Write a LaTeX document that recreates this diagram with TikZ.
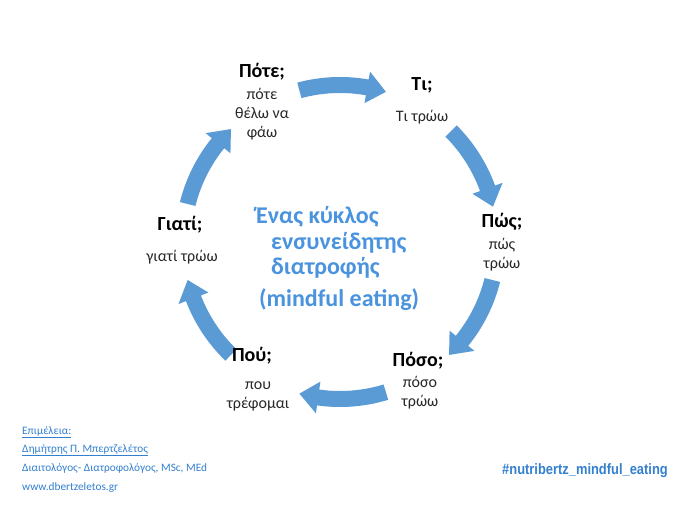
\documentclass[tikz,border=0pt]{standalone}
\usepackage{fontspec}
\usepackage{graphicx}
\setmainfont{Carlito}
\newfontfamily\hashfont{Liberation Sans}
\definecolor{arrowblue}{RGB}{91,155,213}
\definecolor{centerblue}{RGB}{74,147,222}
\definecolor{footblue}{RGB}{52,128,208}
\definecolor{subgray}{RGB}{40,40,40}
\tikzset{
  title/.style={font=\fontsize{20}{24}\selectfont\bfseries, text=black, inner sep=0pt},
  sub/.style={font=\fontsize{16}{19}\selectfont, text=subgray, align=center, inner sep=0pt},
  centre/.style={font=\fontsize{24}{28}\selectfont\bfseries, text=centerblue, anchor=west, inner sep=0pt},
  foot/.style={font=\fontsize{11.3}{13}\selectfont, text=footblue, anchor=west, inner sep=0pt},
}
\newcommand{\cycarrow}[2]{%
  \pgfmathsetmacro{\hd}{#2+7}%
  \fill[arrowblue] (#1:165pt) arc[start angle=#1, end angle=\hd, radius=165pt]
    -- (\hd:173pt) -- (#2:157pt) -- (\hd:141pt) -- (\hd:149pt)
    arc[start angle=\hd, end angle=#1, radius=149pt] -- cycle;}
\begin{document}
\begin{tikzpicture}[x=1pt,y=1pt]
\path[use as bounding box, fill=white] (0,0) rectangle (700,525);
% arrows
\begin{scope}[shift={(340,283)}]
\cycarrow{105}{73}
\cycarrow{45}{13}
\cycarrow{-14}{-46}
\cycarrow{-73}{-105}
\cycarrow{-134}{-166}
\cycarrow{166}{134}
\end{scope}
% nodes
\node[title] (t1) at (262,453) {Πότε;};
\node[sub] (s1) at (262,411) {πότε\\θέλω να\\φάω};
\node[title] (t2) at (422,440) {Τι;};
\node[sub] (s2) at (422,408) {Τι τρώω};
\node[title] (t3) at (502,303) {Πώς;};
\node[sub] (s3) at (502,270.5) {πώς\\τρώω};
\node[title] (t4) at (418,164) {Πόσο;};
\node[sub] (s4) at (420,132) {πόσο\\τρώω};
\node[title] (t5) at (252,169) {Πού;};
\node[sub] (s5) at (258,129) {που\\τρέφομαι};
\node[title] (t6) at (180,300) {Γιατί;};
\node[sub] (s6) at (182,268) {γιατί τρώω};
% centre text
\node[centre] (c1) at (256,308) {Ένας κύκλος};
\node[centre] (c2) at (271,282) {ενσυνείδητης};
\node[centre] (c3) at (271,257) {διατροφής};
\node[centre] (c4) at (259,225) {(mindful eating)};
% footer
\node[foot] (f1) at (22,93) {\underline{Επιμέλεια:}};
\node[foot] (f2) at (22,75) {\underline{Δημήτρης Π. Μπερτζελέτος}};
\node[foot] (f3) at (22,57) {Διαιτολόγος- Διατροφολόγος, MSc, MEd};
\node[foot] (f4) at (22,37) {www.dbertzeletos.gr};
\node[anchor=west, inner sep=0pt, text=footblue, font=\hashfont\bfseries\fontsize{15}{18}\selectfont] (h) at (502,54) {\scalebox{0.86}[1]{\#nutribertz\_mindful\_eating}};
\end{tikzpicture}
\end{document}
